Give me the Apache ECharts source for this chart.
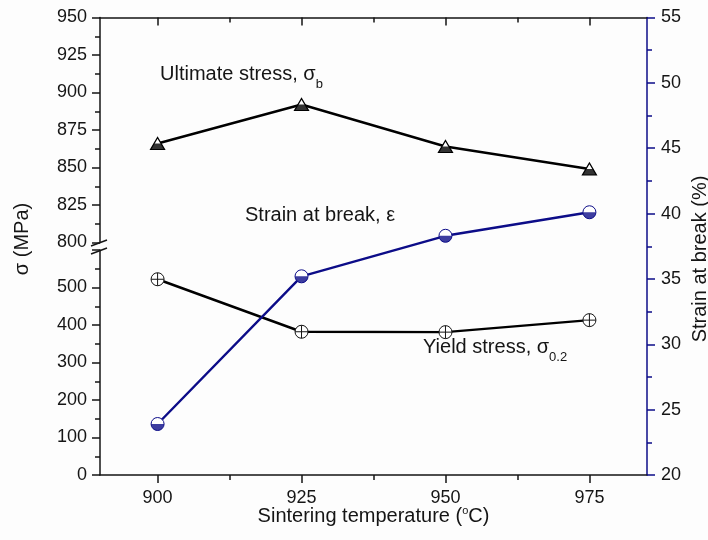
<!DOCTYPE html>
<html><head><meta charset="utf-8">
<script src="https://cdn.jsdelivr.net/npm/echarts@6/dist/echarts.min.js"></script>
<style>html,body{margin:0;padding:0;background:#fff}#c{width:708px;height:540px}</style>
</head><body><div id="c"></div>
<script>
// ---- data ----
const temperatures = [900, 925, 950, 975];
const ultimateStress = [866, 892, 864, 849];   // MPa (upper left axis)
const yieldStress = [522, 382, 381, 413];      // MPa (lower left axis)
const strainAtBreak = [23.9, 35.2, 38.3, 40.1]; // % (right axis)
const xTickValues = [900, 925, 950, 975];
const xMinorTickValues = [912.5, 937.5, 962.5];

const pairs = (ys) => temperatures.map((t, i) => [t, ys[i]]);

const NAVY = '#0c0c88';
const INK = '#151515';
const FONT = 'Liberation Sans, Arial, sans-serif';

const TRI = 'path://M10,0 L20,18 L0,18 Z';
const TRI_HALF = 'path://M10,0 L10,0 M5,9 L15,9 L20,18 L0,18 Z';
const CIRC = 'path://M0,10 A10,10 0 1,1 20,10 A10,10 0 1,1 0,10 Z';
const CIRC_HALF = 'path://M10,0 L10,0 M0,10 A10,10 0 0,0 20,10 Z';
const CROSS = 'path://M0,10 A10,10 0 1,1 20,10 A10,10 0 1,1 0,10 Z M0,10 L20,10 M10,0 L10,20';

const L = 100, R = 61;
const chart = echarts.init(document.getElementById('c'));

const xBase = {type: 'value', min: 890, max: 985, splitLine: {show: false}};
const axisLineStyle = {color: INK, width: 1.5};

chart.setOption({
  backgroundColor: '#fdfdfd',
  animation: false,
  grid: [
    {left: L, right: R, top: 17.5, bottom: 65},
    {left: L, right: R, top: 17.5, height: 225},
    {left: L, right: R, top: 250, height: 225}
  ],
  xAxis: [
    Object.assign({}, xBase, {gridIndex: 0, position: 'bottom',
      axisLine: {lineStyle: axisLineStyle},
      axisTick: {customValues: xTickValues, length: 8, lineStyle: {color: INK, width: 1.5}},
      axisLabel: {customValues: xTickValues, fontSize: 18, color: INK, fontFamily: FONT, margin: 14}}),
    Object.assign({}, xBase, {gridIndex: 0, position: 'bottom',
      axisLine: {show: false},
      axisTick: {customValues: xMinorTickValues, length: 5, lineStyle: {color: INK, width: 1.5}},
      axisLabel: {show: false}}),
    Object.assign({}, xBase, {gridIndex: 0, position: 'top',
      axisLine: {lineStyle: axisLineStyle},
      axisTick: {customValues: xTickValues, inside: true, length: 8, lineStyle: {color: INK, width: 1.5}},
      axisLabel: {show: false}}),
    Object.assign({}, xBase, {gridIndex: 0, position: 'top',
      axisLine: {show: false},
      axisTick: {customValues: xMinorTickValues, inside: true, length: 5, lineStyle: {color: INK, width: 1.5}},
      axisLabel: {show: false}}),
    Object.assign({}, xBase, {gridIndex: 1, show: false}),
    Object.assign({}, xBase, {gridIndex: 2, show: false})
  ],
  yAxis: [
    {type: 'value', gridIndex: 0, position: 'right', min: 20, max: 55, interval: 5,
      axisLine: {show: true, lineStyle: {color: NAVY, width: 1.5}},
      axisTick: {show: true, length: 8, lineStyle: {color: NAVY, width: 1.5}},
      minorTick: {show: true, splitNumber: 2, length: 5, lineStyle: {color: NAVY, width: 1.5}},
      axisLabel: {fontSize: 18, color: INK, fontFamily: FONT, margin: 14},
      splitLine: {show: false}},
    {type: 'value', gridIndex: 1, position: 'left', min: 800, max: 950, interval: 25,
      axisLine: {show: true, lineStyle: axisLineStyle},
      axisTick: {show: true, length: 8, lineStyle: {color: INK, width: 1.5}},
      minorTick: {show: true, splitNumber: 2, length: 5, lineStyle: {color: INK, width: 1.5}},
      axisLabel: {fontSize: 18, color: INK, fontFamily: FONT, margin: 13},
      splitLine: {show: false}},
    {type: 'value', gridIndex: 2, position: 'left', min: 0, max: 600, interval: 100,
      axisLine: {show: true, lineStyle: axisLineStyle},
      axisTick: {show: true, length: 8, lineStyle: {color: INK, width: 1.5}},
      minorTick: {show: true, splitNumber: 2, length: 5, lineStyle: {color: INK, width: 1.5}},
      axisLabel: {fontSize: 18, color: INK, fontFamily: FONT, margin: 13, showMaxLabel: false},
      splitLine: {show: false}}
  ],
  series: [
    {name: 'Yield stress', type: 'line', xAxisIndex: 5, yAxisIndex: 2, data: pairs(yieldStress),
      symbol: CROSS, symbolSize: 13, z: 3,
      itemStyle: {color: '#fff', borderColor: INK, borderWidth: 1},
      lineStyle: {color: '#000', width: 2.4}},
    {name: 'Ultimate stress', type: 'line', xAxisIndex: 4, yAxisIndex: 1, data: pairs(ultimateStress),
      symbol: TRI, symbolSize: [14, 12], z: 3,
      itemStyle: {color: '#fff', borderColor: '#000', borderWidth: 1.2},
      lineStyle: {color: '#000', width: 2.4}},
    {name: 'Ultimate stress fill', type: 'scatter', xAxisIndex: 4, yAxisIndex: 1, data: pairs(ultimateStress),
      symbol: TRI_HALF, symbolSize: [14, 12], z: 6, silent: true,
      itemStyle: {color: '#000', borderWidth: 0}},
    {name: 'Strain at break', type: 'line', xAxisIndex: 0, yAxisIndex: 0, data: pairs(strainAtBreak),
      symbol: CIRC, symbolSize: 13, z: 4,
      itemStyle: {color: '#fff', borderColor: NAVY, borderWidth: 1},
      lineStyle: {color: NAVY, width: 2.4}},
    {name: 'Strain fill', type: 'scatter', xAxisIndex: 0, yAxisIndex: 0, data: pairs(strainAtBreak),
      symbol: CIRC_HALF, symbolSize: 13, z: 7, silent: true,
      itemStyle: {color: NAVY, borderWidth: 0}}
  ],
  graphic: [
    // axis break marks
    {type: 'line', shape: {x1: 91, y1: 246, x2: 107, y2: 240}, style: {stroke: INK, lineWidth: 1.5}, z: 100},
    {type: 'line', shape: {x1: 91, y1: 254, x2: 107, y2: 248}, style: {stroke: INK, lineWidth: 1.5}, z: 100},
    // axis titles
    {type: 'text', x: 22, y: 239, rotation: Math.PI / 2,
      style: {text: 'σ (MPa)', fontSize: 20, fontFamily: FONT, fill: INK, align: 'center', verticalAlign: 'middle'}},
    {type: 'text', x: 700, y: 259, rotation: Math.PI / 2,
      style: {text: 'Strain at break (%)', fontSize: 20, fontFamily: FONT, fill: INK, align: 'center', verticalAlign: 'middle'}},
    {type: 'text', x: 373.5, y: 516,
      style: {text: '{m|Sintering temperature (}{s|o}{m|C)}', align: 'center', verticalAlign: 'middle',
        rich: {m: {fontSize: 20, lineHeight: 22, fontFamily: FONT, fill: INK, color: INK},
               s: {fontSize: 11, lineHeight: 12, verticalAlign: 'top', fontFamily: FONT, fill: INK, color: INK}}}},
    // annotations
    {type: 'text', x: 160, y: 74,
      style: {text: '{m|Ultimate stress, σ}{s|b}', align: 'left', verticalAlign: 'middle',
        rich: {m: {fontSize: 20, lineHeight: 33, fontFamily: FONT, fill: INK, color: INK},
               s: {fontSize: 13, lineHeight: 13, verticalAlign: 'bottom', fontFamily: FONT, fill: INK, color: INK}}}},
    {type: 'text', x: 245, y: 215.5,
      style: {text: 'Strain at break, ε', fontSize: 20, fontFamily: FONT, fill: INK, align: 'left', verticalAlign: 'middle'}},
    {type: 'text', x: 423, y: 347.5,
      style: {text: '{m|Yield stress, σ}{s|0.2}', align: 'left', verticalAlign: 'middle',
        rich: {m: {fontSize: 20, lineHeight: 33, fontFamily: FONT, fill: INK, color: INK},
               s: {fontSize: 13, lineHeight: 13, verticalAlign: 'bottom', fontFamily: FONT, fill: INK, color: INK}}}}
  ]
});
</script>
</body></html>
